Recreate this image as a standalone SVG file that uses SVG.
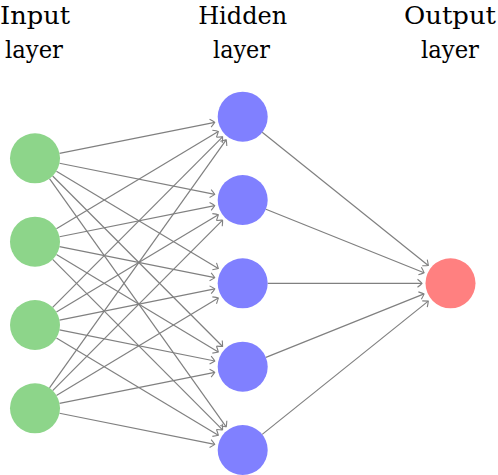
<svg xmlns="http://www.w3.org/2000/svg" width="498" height="475" viewBox="0 0 498 475">
<style>
.lbl{font-family:"DejaVu Serif","Liberation Serif",serif;font-size:25px;fill:#000;text-anchor:middle}
.e{stroke:#808080;stroke-width:1.2;fill:none;marker-end:url(#arr)}
.in{fill:#8dd58a}
.hid{fill:#8080ff}
.out{fill:#ff8080}
</style>
<defs>
<marker id="arr" markerUnits="userSpaceOnUse" markerWidth="12" markerHeight="12" viewBox="-6 -6 12 12" refX="0" refY="0" orient="auto" overflow="visible">
<path d="M -4.5 -4 Q -1 -1.2 0 0 Q -1 1.2 -4.5 4" fill="none" stroke="#808080" stroke-width="1.1"/>
</marker>
</defs>
<rect width="498" height="475" fill="#fff"/>
<g id="labels">
<text class="lbl" x="35" y="23.5" textLength="70" lengthAdjust="spacingAndGlyphs">Input</text>
<text class="lbl" x="34" y="58" textLength="58" lengthAdjust="spacingAndGlyphs">layer</text>
<text class="lbl" x="242.7" y="23.5" textLength="89" lengthAdjust="spacingAndGlyphs">Hidden</text>
<text class="lbl" x="241.5" y="58" textLength="57" lengthAdjust="spacingAndGlyphs">layer</text>
<text class="lbl" x="450" y="23.5" textLength="92" lengthAdjust="spacingAndGlyphs">Output</text>
<text class="lbl" x="450" y="58" textLength="58" lengthAdjust="spacingAndGlyphs">layer</text>
</g>
<g id="connectors">
<line class="e" x1="59.51" y1="153.38" x2="214.76" y2="122.31"/>
<line class="e" x1="59.51" y1="163.22" x2="214.76" y2="194.39"/>
<line class="e" x1="56.42" y1="171.19" x2="218.28" y2="268.6"/>
<line class="e" x1="52.65" y1="176.0" x2="222.58" y2="346.52"/>
<line class="e" x1="49.5" y1="178.66" x2="226.17" y2="426.78"/>
<line class="e" x1="56.42" y1="228.81" x2="218.28" y2="131.4"/>
<line class="e" x1="59.51" y1="236.78" x2="214.76" y2="205.61"/>
<line class="e" x1="59.51" y1="246.62" x2="214.76" y2="277.69"/>
<line class="e" x1="56.42" y1="254.59" x2="218.28" y2="352.0"/>
<line class="e" x1="52.65" y1="259.4" x2="222.58" y2="429.82"/>
<line class="e" x1="52.65" y1="307.3" x2="222.58" y2="136.88"/>
<line class="e" x1="56.42" y1="312.11" x2="218.28" y2="214.7"/>
<line class="e" x1="59.51" y1="320.08" x2="214.76" y2="288.91"/>
<line class="e" x1="59.51" y1="329.92" x2="214.76" y2="360.99"/>
<line class="e" x1="56.42" y1="337.89" x2="218.28" y2="435.3"/>
<line class="e" x1="49.5" y1="387.94" x2="226.17" y2="139.92"/>
<line class="e" x1="52.65" y1="390.6" x2="222.58" y2="220.18"/>
<line class="e" x1="56.42" y1="395.41" x2="218.28" y2="298.0"/>
<line class="e" x1="59.51" y1="403.38" x2="214.76" y2="372.31"/>
<line class="e" x1="59.51" y1="413.22" x2="214.76" y2="444.39"/>
<line class="e" x1="262.2" y1="132.34" x2="428.27" y2="265.47"/>
<line class="e" x1="265.9" y1="209.31" x2="424.05" y2="272.69"/>
<line class="e" x1="267.7" y1="283.3" x2="422.0" y2="283.3"/>
<line class="e" x1="265.9" y1="357.39" x2="424.05" y2="293.91"/>
<line class="e" x1="262.2" y1="434.36" x2="428.27" y2="301.13"/>
</g>
<g id="input1"><circle class="in" cx="35" cy="158.3" r="25"/></g>
<g id="input2"><circle class="in" cx="35" cy="241.7" r="25"/></g>
<g id="input3"><circle class="in" cx="35" cy="325" r="25"/></g>
<g id="input4"><circle class="in" cx="35" cy="408.3" r="25"/></g>
<g id="hidden1"><circle class="hid" cx="242.7" cy="116.7" r="25"/></g>
<g id="hidden2"><circle class="hid" cx="242.7" cy="200" r="25"/></g>
<g id="hidden3"><circle class="hid" cx="242.7" cy="283.3" r="25"/></g>
<g id="hidden4"><circle class="hid" cx="242.7" cy="366.7" r="25"/></g>
<g id="hidden5"><circle class="hid" cx="242.7" cy="450" r="25"/></g>
<g id="output1"><circle class="out" cx="450.5" cy="283.3" r="25"/></g>
</svg>
